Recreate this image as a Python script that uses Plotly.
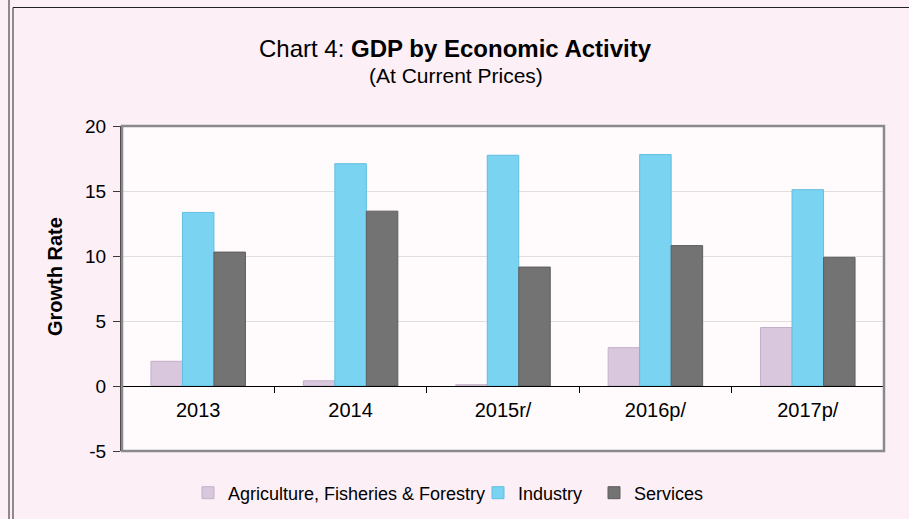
import plotly.graph_objects as go

# ---- data ----
years = ["2013", "2014", "2015r/", "2016p/", "2017p/"]
agriculture = [1.9, 0.4, 0.1, 2.95, 4.5]
industry = [13.35, 17.1, 17.75, 17.8, 15.1]
services = [10.3, 13.45, 9.15, 10.8, 9.9]
series_names = ["Agriculture, Fisheries & Forestry", "Industry", "Services"]
y_ticks = [-5, 0, 5, 10, 15, 20]
y_tick_text = ["-5", "0", "5", "10", "15", "20"]

FONT = "Liberation Sans, Arial, sans-serif"
W, H = 909, 519
L, R, T, B = 122, 25, 126, 68
PW, PH = W - L - R, H - T - B


def px(x):
    return (x - L) / PW


def py(y):
    return (H - B - y) / PH


fills = ["#d9c8dd", "#79d3f1", "#737373"]
edges = ["#c3b0c8", "#60bfe0", "#5e5e5e"]
legends = ["legend", "legend2", "legend3"]

fig = go.Figure()
for name, vals, fc, ec, lg in zip(series_names, [agriculture, industry, services], fills, edges, legends):
    fig.add_trace(go.Bar(
        x=years, y=vals, name=name,
        marker=dict(color=fc, line=dict(color=ec, width=1)),
        legend=lg, showlegend=True,
    ))

legend_common = dict(orientation="h", bgcolor="rgba(0,0,0,0)",
                     font=dict(family=FONT, size=18, color="#000"),
                     yanchor="middle", y=py(493), xanchor="left",
                     itemwidth=30, tracegroupgap=0)

fig.update_layout(
    width=W, height=H,
    margin=dict(l=L, r=R, t=T, b=B, autoexpand=False),
    paper_bgcolor="#fdeff6",
    plot_bgcolor="#fffafc",
    barmode="group", bargap=0.38, bargroupgap=0,
    font=dict(family=FONT, color="#000"),
    showlegend=True,
    legend=dict(legend_common, x=px(188)),
    legend2=dict(legend_common, x=px(478)),
    legend3=dict(legend_common, x=px(594)),
    xaxis=dict(
        type="category", anchor="free", position=py(386),
        showline=True, linecolor="#000", linewidth=1,
        ticks="outside", tickson="boundaries", ticklen=6, tickcolor="#000",
        tickfont=dict(family=FONT, size=20, color="#000"),
        ticklabelstandoff=6,
        showgrid=False,
    ),
    yaxis=dict(
        range=[-5, 20], tickvals=y_ticks, ticktext=y_tick_text,
        showline=True, linecolor="#3a3a3a", linewidth=2,
        ticks="outside", ticklen=7, tickcolor="#3a3a3a",
        tickfont=dict(family=FONT, size=19, color="#000"),
        ticklabelstandoff=3,
        showgrid=True, gridcolor="#e2dede", gridwidth=1,
        zeroline=False,
    ),
    shapes=[
        dict(type="rect", xref="paper", yref="paper", x0=0, x1=1, y0=0, y1=1,
             line=dict(color="#8a8a8a", width=2.5), layer="above"),
        dict(type="line", xref="paper", yref="paper", x0=px(9), x1=px(9), y0=py(0), y1=py(H),
             line=dict(color="#222", width=1)),
        dict(type="line", xref="paper", yref="paper", x0=px(13), x1=px(13), y0=py(7.5), y1=py(H),
             line=dict(color="#222", width=1)),
        dict(type="line", xref="paper", yref="paper", x0=px(13), x1=px(W + 5), y0=py(7.5), y1=py(7.5),
             line=dict(color="#222", width=1)),
    ],
    annotations=[
        dict(text="Chart 4: <b>GDP by Economic Activity</b>", xref="paper", yref="paper",
             x=px(455), y=py(48), xanchor="center", yanchor="middle", showarrow=False,
             font=dict(family=FONT, size=24, color="#000")),
        dict(text="(At Current Prices)", xref="paper", yref="paper",
             x=px(456), y=py(75), xanchor="center", yanchor="middle", showarrow=False,
             font=dict(family=FONT, size=21, color="#000")),
        dict(text="<b>Growth Rate</b>", xref="paper", yref="paper",
             x=px(55), y=py(277), xanchor="center", yanchor="middle", showarrow=False,
             textangle=-90, font=dict(family=FONT, size=20, color="#000")),
    ],
)

fig.write_html("out.html")
